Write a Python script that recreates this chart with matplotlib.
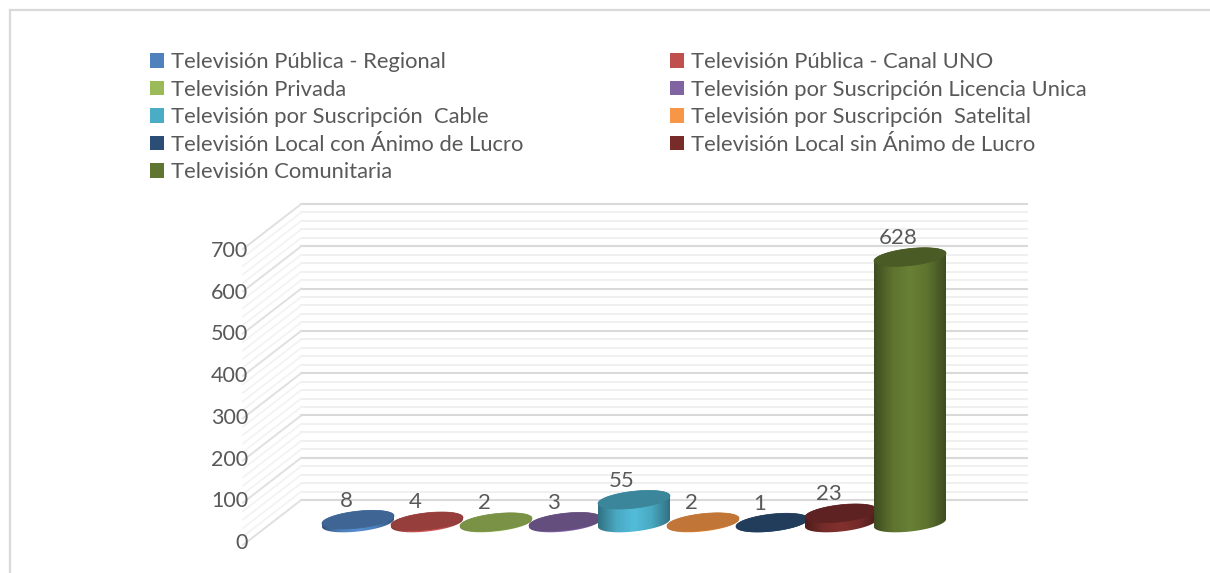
import numpy as np
import matplotlib
matplotlib.use("Agg")
import matplotlib.pyplot as plt
from matplotlib.patches import Patch, Polygon
from matplotlib.colors import LinearSegmentedColormap, to_rgb

categories = ["Televisión Pública - Regional", "Televisión Pública - Canal UNO", "Televisión Privada",
              "Televisión por Suscripción Licencia Unica", "Televisión por Suscripción  Cable",
              "Televisión por Suscripción  Satelital", "Televisión Local con Ánimo de Lucro",
              "Televisión Local sin Ánimo de Lucro", "Televisión Comunitaria"]
values = [8, 4, 2, 3, 55, 2, 1, 23, 628]
colors = ["#4F81BD", "#C0504D", "#9BBB59", "#8064A2", "#4BACC6", "#F79646", "#2C4D75", "#772C2A", "#5F7530"]
major_ticks = [0, 100, 200, 300, 400, 500, 600, 700]
minor_ticks = [v for v in range(0, 701, 20) if v % 100]

W, H = 1210, 573
FONT = "Lato"
TEXT = "#595959"
plt.rcParams["font.family"] = FONT
fig = plt.figure(figsize=(W / 100, H / 100), dpi=100)

def px_axes(x0, x1, ytop, ybot, **kw):
    return fig.add_axes([x0 / W, 1 - ybot / H, (x1 - x0) / W, (ybot - ytop) / H], **kw)

# chart frame (top and left only)
frame = px_axes(10, W + 5, 10, H + 5)
frame.set_xticks([]); frame.set_yticks([])
frame.patch.set_alpha(0)
for s in ("right", "bottom"):
    frame.spines[s].set_visible(False)
for s in ("top", "left"):
    frame.spines[s].set_color("#D9D9D9"); frame.spines[s].set_linewidth(1.6)

# back wall
back = px_axes(301, 1027, 204, 500)
back.set_xlim(0, 1); back.set_ylim(0, 700)
back.axis("off")
for v in minor_ticks:
    back.plot([0, 1], [v, v], color="#F0F0F0", lw=1.4, clip_on=False)
for v in major_ticks:
    back.plot([0, 1], [v, v], color="#D9D9D9", lw=1.5, clip_on=False)

# side wall
side = px_axes(243, 301, 249, 545)
side.set_xlim(0, 1); side.set_ylim(0, 700)
side.axis("off")
DEPTH = 106
for v in minor_ticks:
    side.plot([0, 1], [v, v + DEPTH], color="#F3F3F3", lw=1.3, clip_on=False)
for v in major_ticks:
    side.plot([0, 1], [v, v + DEPTH], color="#E0E0E0", lw=1.4, clip_on=False)

# value axis labels
val = px_axes(248, 300, 249, 541)
val.set_xlim(0, 1); val.set_ylim(0, 700)
val.patch.set_alpha(0)
for s in val.spines.values():
    s.set_visible(False)
val.set_xticks([])
val.set_yticks(major_ticks)
val.tick_params(axis="y", length=0, pad=0, labelsize=15.5, labelcolor=TEXT)

# cylinders: x in category index, y in value units
SX, SY = 69.0, 0.4235
X0, Y0 = 358.0, 523.0
ax = fig.add_axes([0, 0, 1, 1])
ax.patch.set_alpha(0)
ax.axis("off")
xlim = ((0 - X0) / SX, (W - X0) / SX)
ylim = ((Y0 - H) / SY, Y0 / SY)
A, B, K = 36 / SX, 8.5 / SY, 3.8 / SY
t = np.linspace(0, 2 * np.pi, 181)

def ring(xc, v, tt):
    return xc + A * np.cos(tt), v + B * np.sin(tt) + K * np.cos(tt)

for i, (v, c) in enumerate(zip(values, colors)):
    z = 3 + i
    rgb = np.array(to_rgb(c))
    centre = np.clip(rgb * 1.1, 0, 1)
    cmap = LinearSegmentedColormap.from_list("c", [rgb * 0.66, rgb * 0.98, centre, rgb * 0.98, rgb * 0.66])
    up = np.linspace(np.pi, 0, 91)
    low = np.linspace(2 * np.pi, np.pi, 91)
    xu, yu = ring(i, v, up)
    xl, yl = ring(i, 0, low)
    body = Polygon(np.column_stack([np.r_[xu, xl], np.r_[yu, yl]]), closed=True, fc="none", ec="none", zorder=z)
    ax.add_patch(body)
    grad = np.linspace(0, 1, 64).reshape(1, -1)
    im = ax.imshow(grad, cmap=cmap, extent=(i - A, i + A, -30, v + 30), aspect="auto", zorder=z, interpolation="bilinear")
    im.set_clip_path(body)
    tx, ty = ring(i, v, t)
    ax.fill(tx, ty, color=rgb * 0.78, lw=0.5, zorder=z + 0.1)
    ax.annotate(str(v), (i, v), xytext=(-12 * 0.72, 19 * 0.72), textcoords="offset points",
                ha="center", va="center", fontsize=16, color=TEXT, zorder=30)

ax.set_xlim(*xlim)
ax.set_ylim(*ylim)

# legend, two independent columns
def col(idx, x):
    handles = [Patch(fc=colors[j], ec="none", label=categories[j]) for j in idx]
    fig.legend(handles=handles, loc="upper left", bbox_to_anchor=(x / W, 1 - 52 / H), frameon=False,
               fontsize=15.8, labelcolor=TEXT, handlelength=0.64, handleheight=0.64, handletextpad=0.3,
               labelspacing=0.345, borderpad=0, borderaxespad=0)

col([0, 2, 4, 6, 8], 150)
col([1, 3, 5, 7], 670)

fig.savefig("out.png", dpi=100)
